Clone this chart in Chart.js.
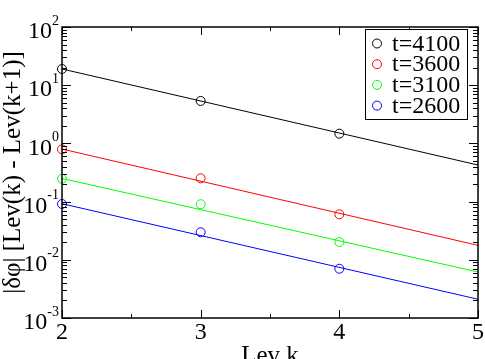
<!DOCTYPE html>
<html>
<head>
<meta charset="utf-8">
<script src="https://cdn.jsdelivr.net/npm/chart.js@4.4.0/dist/chart.umd.min.js"></script>
<style>
  html, body { margin: 0; padding: 0; background: #fff; }
</style>
</head>
<body>
<canvas id="chart" width="485" height="359"></canvas>
<script>
// levels where the differences were measured, and the ends of the fitted lines
const levels = [2, 3, 4];
const fitEnds = [2, 5];
const xTicks = [2, 3, 4, 5];
const yExponents = [-3, -2, -1, 0, 1, 2];

const seriesLabels = ['t=4100', 't=3600', 't=3100', 't=2600'];
const seriesColors = ['#000000', '#ff0000', '#00ff00', '#0000ff'];

// |dphi| between successive levels
const diff4100 = [19.0, 5.36, 1.47];
const diff3600 = [0.79, 0.251, 0.0605];
const diff3100 = [0.247, 0.090, 0.0202];
const diff2600 = [0.091, 0.0297, 0.00703];

// fitted lines, values at k=2 and k=5
const fit4100 = [19.0, 0.425];
const fit3600 = [0.80, 0.0177];
const fit3100 = [0.25, 0.00617];
const fit2600 = [0.092, 0.00210];

const diffs = [diff4100, diff3600, diff3100, diff2600];
const fits = [fit4100, fit3600, fit3100, fit2600];

const FONT = "'Liberation Serif', 'DejaVu Serif', serif";

const datasets = [];
fits.forEach((f, i) => {
  datasets.push({
    label: seriesLabels[i] + ' fit',
    data: fitEnds.map((x, j) => ({ x: x, y: f[j] })),
    showLine: true,
    borderColor: seriesColors[i],
    borderWidth: 1,
    pointRadius: 0,
    fill: false
  });
});
diffs.forEach((d, i) => {
  datasets.push({
    label: seriesLabels[i],
    data: levels.map((x, j) => ({ x: x, y: d[j] })),
    showLine: false,
    borderColor: seriesColors[i],
    backgroundColor: 'rgba(0,0,0,0)',
    borderWidth: 1,
    pointRadius: 4.5,
    pointStyle: 'circle',
    clip: false
  });
});

// frame, inward ticks, superscript y labels and the boxed legend
const decorations = {
  id: 'decorations',
  afterDraw(chart) {
    const ctx = chart.ctx;
    const a = chart.chartArea;
    const xs = chart.scales.x, ys = chart.scales.y;
    ctx.save();
    ctx.strokeStyle = '#000';
    ctx.lineWidth = 1;

    ctx.beginPath();
    yExponents.forEach(e => {
      for (let m = 1; m <= 9; m++) {
        if (e === 2 && m > 1) break;
        const py = Math.round(ys.getPixelForValue(m * Math.pow(10, e))) + 0.5;
        const len = m === 1 ? 9 : 5;
        ctx.moveTo(a.left, py); ctx.lineTo(a.left + len, py);
        ctx.moveTo(a.right, py); ctx.lineTo(a.right - len, py);
      }
    });
    for (let v = 2; v <= 5; v += 0.5) {
      const px = Math.round(xs.getPixelForValue(v)) + 0.5;
      const len = Number.isInteger(v) ? 8 : 4;
      ctx.moveTo(px, a.bottom); ctx.lineTo(px, a.bottom - len);
      ctx.moveTo(px, a.top); ctx.lineTo(px, a.top + len);
    }
    ctx.stroke();

    ctx.lineWidth = 1.5;
    ctx.strokeRect(a.left, a.top, a.right - a.left, a.bottom - a.top);

    // y tick labels 10^n
    ctx.fillStyle = '#000';
    ctx.textBaseline = 'middle';
    yExponents.forEach(e => {
      const py = ys.getPixelForValue(Math.pow(10, e));
      ctx.font = '14px ' + FONT;
      const sup = String(e);
      const supW = ctx.measureText(sup).width;
      const xr = a.left - 3;
      ctx.textAlign = 'left';
      ctx.fillText(sup, xr - supW, py - 6);
      ctx.font = '24px ' + FONT;
      ctx.textAlign = 'right';
      ctx.fillText('10', xr - supW, py + 5);
    });

    // legend
    const lx = 365, ly = 29, lw = 102, lh = 90;
    ctx.fillStyle = '#fff';
    ctx.fillRect(lx, ly, lw, lh);
    ctx.lineWidth = 1;
    ctx.strokeStyle = '#000';
    ctx.strokeRect(lx + 0.5, ly + 0.5, lw, lh);
    ctx.font = '24px ' + FONT;
    ctx.textAlign = 'left';
    seriesLabels.forEach((lab, i) => {
      const cy = ly + 14.5 + i * 20.7;
      ctx.strokeStyle = seriesColors[i];
      ctx.beginPath();
      ctx.arc(lx + 12, cy, 4.5, 0, Math.PI * 2);
      ctx.stroke();
      ctx.fillStyle = '#000';
      ctx.fillText(lab, lx + 27, cy + 1);
    });
    ctx.restore();
  }
};

new Chart(document.getElementById('chart'), {
  type: 'scatter',
  data: { datasets: datasets },
  options: {
    responsive: false,
    animation: false,
    devicePixelRatio: 1,
    layout: { padding: { top: 27, right: 7, left: 0, bottom: 0 } },
    plugins: {
      legend: { display: false },
      tooltip: { enabled: false }
    },
    scales: {
      x: {
        type: 'linear',
        min: 2,
        max: 5,
        afterBuildTicks: s => { s.ticks = xTicks.map(v => ({ value: v })); },
        ticks: {
          color: '#000',
          padding: 0,
          font: { family: FONT, size: 24 }
        },
        grid: { display: false, drawTicks: false },
        border: { display: false },
        title: {
          display: true,
          text: 'Lev k',
          color: '#000',
          font: { family: FONT, size: 25 },
          padding: { top: 0, bottom: -12 }
        },
        afterFit: s => { s.height = 41; }
      },
      y: {
        type: 'logarithmic',
        min: 1e-3,
        max: 1e2,
        ticks: { callback: () => '' },
        grid: { display: false, drawTicks: false },
        border: { display: false },
        title: {
          display: true,
          text: '|δφ| [Lev(k) - Lev(k+1)]',
          color: '#000',
          font: { family: FONT, size: 25 },
          padding: { top: -2, bottom: 0 }
        },
        afterFit: s => { s.width = 62; }
      }
    }
  },
  plugins: [decorations]
});
</script>
</body>
</html>
